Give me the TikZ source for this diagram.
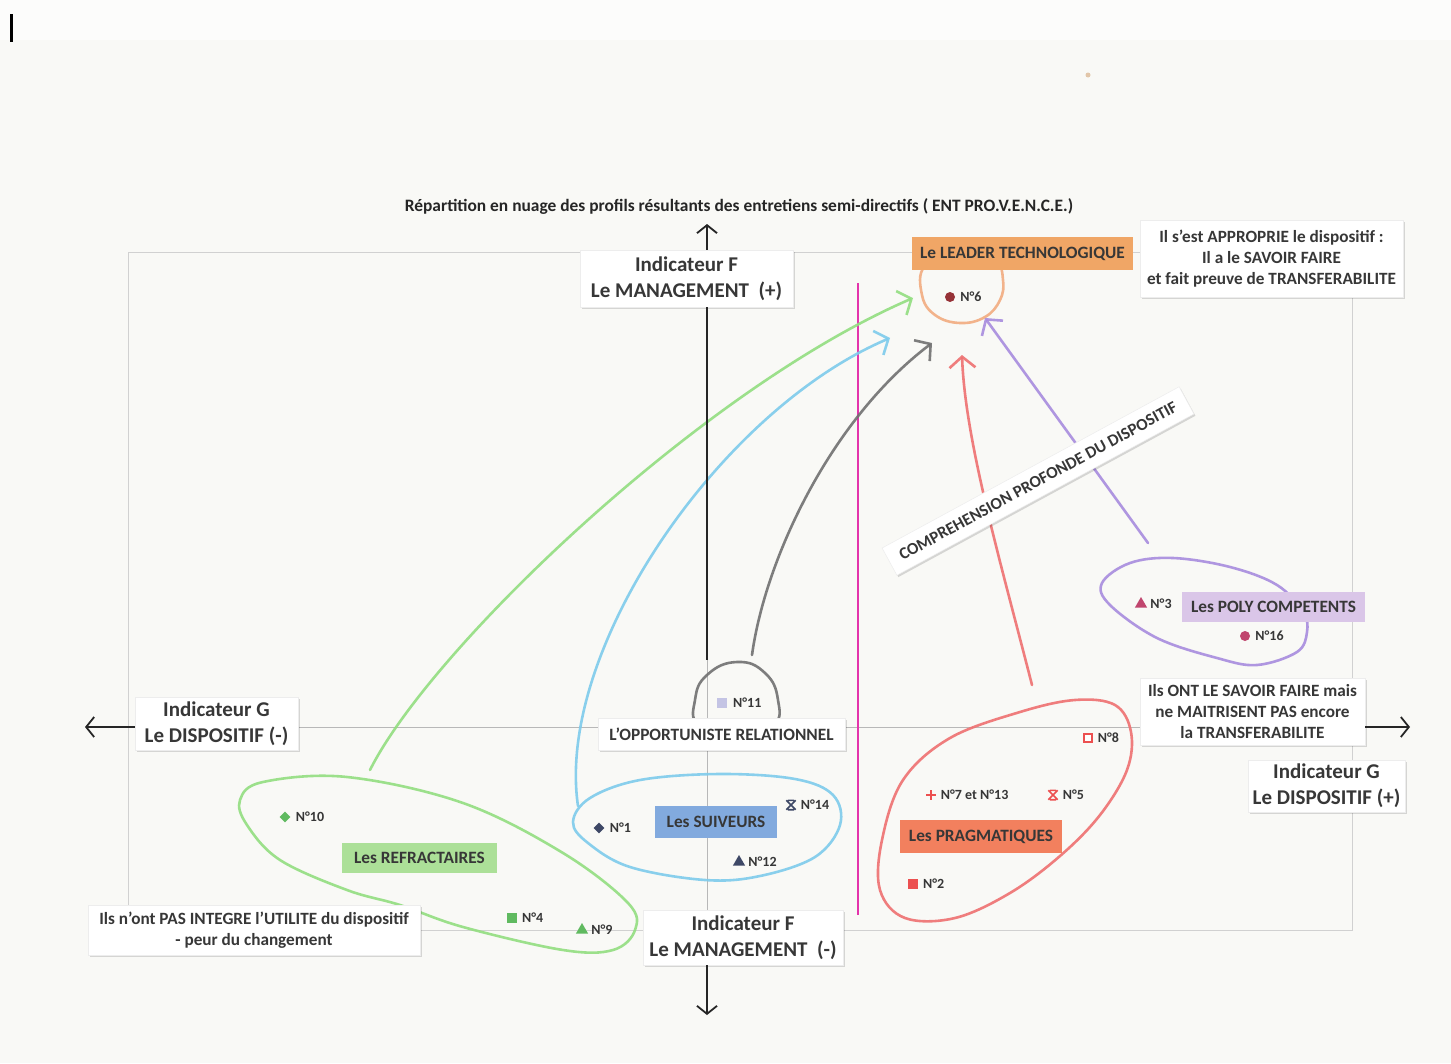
\documentclass[tikz,border=0pt]{standalone}
\usepackage{fontspec}
\setmainfont{Carlito}
\usetikzlibrary{arrows.meta,shadows,shapes.geometric}
\definecolor{paper}{RGB}{249,249,246}
\definecolor{topband}{RGB}{252,252,251}
\definecolor{txt}{RGB}{55,55,55}
\definecolor{leaderC}{RGB}{240,166,102}
\definecolor{polyC}{RGB}{218,198,232}
\definecolor{suivC}{RGB}{130,170,222}
\definecolor{refrC}{RGB}{172,224,152}
\definecolor{pragC}{RGB}{242,128,94}
\definecolor{greenL}{RGB}{146,222,128}
\definecolor{cyanL}{RGB}{125,203,236}
\definecolor{grayL}{RGB}{112,112,112}
\definecolor{redL}{RGB}{238,112,112}
\definecolor{purpleL}{RGB}{168,140,222}
\definecolor{orangeL}{RGB}{242,172,128}
\definecolor{magentaL}{RGB}{228,52,172}
\definecolor{navyM}{RGB}{62,72,102}
\definecolor{greenM}{RGB}{96,186,96}
\definecolor{redM}{RGB}{236,80,80}
\definecolor{roseM}{RGB}{192,70,110}
\definecolor{darkredM}{RGB}{150,50,55}
\definecolor{lavM}{RGB}{196,196,228}
\newcommand\fsz[2]{\fontsize{#1}{#2}\selectfont}
\begin{document}
\begin{tikzpicture}[x=1pt,y=-1pt,
  every node/.style={text=txt},
  wbox/.style={fill=white, draw=black!7, line width=0.5pt, align=center, inner sep=0pt,
    drop shadow={shadow xshift=1.5pt, shadow yshift=-1.8pt, opacity=0.14, fill=black}},
  axfont/.style={font=\bfseries\fsz{21}{26}},
  smfont/.style={font=\bfseries\fsz{17.2}{21}},
  tag/.style={inner sep=0pt, font=\bfseries\fsz{17.3}{20}},
  nlab/.style={anchor=west, font=\bfseries\fsz{14}{16}, inner sep=0pt, xshift=5pt},
  frame/.style={draw=black!18, line width=0.7pt},
  axthin/.style={draw=black!28, line width=0.7pt},
  axline/.style={draw=black!85, line width=1.8pt},
  axarrow/.style={draw=black!85, line width=1.8pt, -{Straight Barb[length=8pt,width=20pt,line width=1.8pt]}},
  hloop/.style={line width=2.6pt, line cap=round, line join=round, opacity=0.9},
  harrow/.style={line width=2.6pt, line cap=round, opacity=0.9,
    -{Straight Barb[length=11pt,width=26pt,line width=2.6pt]}},
  dot/.style={circle, inner sep=0pt, minimum size=10pt},
  sqr/.style={rectangle, inner sep=0pt, minimum size=9.5pt},
  tri/.style={regular polygon, regular polygon sides=3, inner sep=0pt, minimum size=14pt},
  dia/.style={diamond, inner sep=0pt, minimum size=11pt},
  star/.style={inner sep=0pt, minimum size=9pt}
]
% ---------- paper ----------
\fill[paper] (0,0) rectangle (1451,1063);
\fill[topband] (0,0) rectangle (1451,40);
\draw[line width=3pt] (11,14) -- (11,42);
\fill[brown!45] (1088,75) circle (2.5);

% ---------- frame and thin axes ----------
\draw[frame] (128,252) rectangle (1352,930);
\draw[axthin] (135,727) -- (1365,727);
\draw[axthin] (707,305) -- (707,965);
\draw[draw=magentaL, line width=1.8pt] (858,283) -- (858,915);

% ---------- hand drawn loops ----------
\draw[hloop, orangeL] plot[smooth cycle, tension=0.7] coordinates
  {(925,266) (922,295) (935,315) (960,323) (985,317) (1000,300) (1003,280) (995,262) (960,255)};
\draw[hloop, grayL] plot[smooth cycle, tension=0.8] coordinates
  {(699,726) (695,700) (707,675) (737,662) (765,673) (778,700) (773,726) (736,740)};
\draw[hloop, cyanL] plot[smooth cycle, tension=0.6] coordinates
  {(573,822) (590,798) (640,780) (720,774) (795,779) (833,795) (840,825) (815,857) (760,876) (705,880) (630,867) (588,843)};
\draw[hloop, greenL] plot[smooth cycle, tension=0.6] coordinates
  {(240,800) (263,782) (347,777) (463,803) (563,853) (628,903) (635,930) (613,950) (563,950) (463,927) (400,905) (347,890) (280,860) (247,825)};
\draw[hloop, purpleL] plot[smooth cycle, tension=0.6] coordinates
  {(1102,583) (1130,563) (1173,558) (1230,567) (1277,585) (1303,612) (1307,632) (1297,652) (1257,665) (1217,658) (1157,638) (1110,605)};
\draw[hloop, redL] plot[smooth cycle, tension=0.6] coordinates
  {(1020,712) (1075,700) (1115,705) (1131,732) (1127,770) (1100,815) (1060,856) (1010,893) (955,918) (905,918) (880,890) (882,840) (903,780) (950,738)};

% ---------- arrows toward the leader ----------
\coordinate (gS) at (370,770);  \coordinate (gE) at (913,298);
\coordinate (cS) at (578,806);  \coordinate (cE) at (890,338);
\coordinate (kS) at (752,655);  \coordinate (kE) at (932,343);
\coordinate (rS) at (1032,685); \coordinate (rE) at (962,355);
\coordinate (pS) at (1148,543); \coordinate (pE) at (985,318);
\draw[harrow, greenL] (gS) .. controls (430,650) and (700,390) .. (gE);
\draw[harrow, cyanL] (cS) .. controls (555,650) and (720,410) .. (cE);
\draw[harrow, grayL] (kS) .. controls (765,560) and (830,420) .. (kE);
\draw[harrow, redL] (rS) .. controls (1000,560) and (965,440) .. (rE);
\draw[harrow, purpleL] (pS) -- (pE);

% ---------- title ----------
\node[font=\bfseries\fsz{17.4}{20}, text=black!85] (title) at (739,207)
  {Répartition en nuage des profils résultants des entretiens semi-directifs ( ENT PRO.V.E.N.C.E.)};

% ---------- axis label boxes ----------
\node[wbox, axfont, minimum width=213pt, minimum height=57pt] (Fplus) at (686.5,278.5)
  {Indicateur F\\Le MANAGEMENT~~(+)};
\node[wbox, axfont, minimum width=200pt, minimum height=55pt] (Fminus) at (743,937.5)
  {Indicateur F\\Le MANAGEMENT~~(-)};
\node[wbox, axfont, minimum width=163pt, minimum height=53pt] (Gminus) at (216.5,723.5)
  {Indicateur G\\Le DISPOSITIF (-)};
\node[wbox, axfont, minimum width=157pt, minimum height=52pt] (Gplus) at (1326.5,786)
  {Indicateur G\\Le DISPOSITIF (+)};

\coordinate (Ftop) at (707,224);
\coordinate (Fmid) at (707,660);
\coordinate (Fbot) at (707,1015);
\coordinate (Lt) at (85,727);
\coordinate (Rt) at (1410,727);

% ---------- comment boxes ----------
\node[wbox, smfont, minimum width=263pt, minimum height=77pt] (approp) at (1271.5,258.5)
  {Il s’est APPROPRIE le dispositif :\\Il a le SAVOIR FAIRE\\et fait preuve de TRANSFERABILITE};
\node[wbox, smfont, minimum width=225pt, minimum height=67pt] (savoir) at (1252.5,711.5)
  {Ils ONT LE SAVOIR FAIRE mais\\ne MAITRISENT PAS encore\\la TRANSFERABILITE};
\node[wbox, smfont, minimum width=332pt, minimum height=50pt] (integre) at (254,930)
  {Ils n’ont PAS INTEGRE l’UTILITE du dispositif\\- peur du changement};
\node[wbox, font=\bfseries\fsz{17.3}{20}, minimum width=247pt, minimum height=32pt] (opport) at (721.5,734)
  {L’OPPORTUNISTE RELATIONNEL};
\node[wbox, font=\bfseries\fsz{16.8}{20}, minimum width=338pt, minimum height=31pt, rotate=28.5] (compr) at (1038,481)
  {COMPREHENSION PROFONDE DU DISPOSITIF};

% ---------- axis arrows ----------
\draw[axarrow] (Fplus.north -| Ftop) -- (Ftop);
\draw[axline] (Fplus.south -| Ftop) -- (Fmid);
\draw[axarrow] (Fminus.south -| Fbot) -- (Fbot);
\draw[axarrow] (Gminus.west |- Lt) -- (Lt);
\draw[axarrow] (savoir.east |- Rt) -- (Rt);

% ---------- group tags ----------
\node[tag, fill=leaderC, minimum width=221pt, minimum height=33pt] (leader) at (1022.5,253.5) {Le LEADER TECHNOLOGIQUE};
\node[tag, fill=polyC, minimum width=183pt, minimum height=30pt] (poly) at (1273.5,607) {Les POLY COMPETENTS};
\node[tag, fill=suivC, minimum width=122pt, minimum height=32pt] (suiv) at (716,822) {Les SUIVEURS};
\node[tag, fill=refrC, minimum width=155pt, minimum height=30pt] (refr) at (419.5,858) {Les REFRACTAIRES};
\node[tag, fill=pragC, minimum width=162pt, minimum height=33pt] (prag) at (981,836.5) {Les PRAGMATIQUES};

% ---------- data points ----------
\node[dot, fill=darkredM] (m6) at (950,297) {};   \node[nlab] at (m6.east) {N°6};
\node[tri, fill=roseM] (m3) at (1141,604) {};     \node[nlab] at (m3.east |- m3.center) {N°3};
\node[dot, fill=roseM] (m16) at (1245,636) {};    \node[nlab] at (m16.east) {N°16};
\node[sqr, fill=lavM] (m11) at (722,703) {};      \node[nlab, xshift=1pt] at (m11.east) {N°11};
\node[sqr, draw=redM, line width=1.5pt, minimum size=8pt, fill=white] (m8) at (1088,738) {}; \node[nlab] at (m8.east) {N°8};
\node[star] (m7) at (931,795) {};
\draw[redM, line width=1.6pt] (m7.west) -- (m7.east) (m7.north) -- (m7.south);
\node[nlab] at (m7.east) {N°7 et N°13};
\node[star] (m5) at (1053,795) {};
\draw[redM, line width=1.6pt] (m5.north west) -- (m5.south east) (m5.north east) -- (m5.south west)
  ([xshift=1.5pt]m5.north west) -- ([xshift=-1.5pt]m5.north east)
  ([xshift=1.5pt]m5.south west) -- ([xshift=-1.5pt]m5.south east);
\node[nlab] at (m5.east) {N°5};
\node[sqr, fill=redM] (m2) at (913,884) {};       \node[nlab] at (m2.east) {N°2};
\node[star] (m14) at (791,805) {};
\draw[navyM, line width=1.6pt] (m14.north west) -- (m14.south east) (m14.north east) -- (m14.south west)
  ([xshift=1.5pt]m14.north west) -- ([xshift=-1.5pt]m14.north east)
  ([xshift=1.5pt]m14.south west) -- ([xshift=-1.5pt]m14.south east);
\node[nlab] at (m14.east) {N°14};
\node[dia, fill=navyM] (m1) at (599,828) {};      \node[nlab] at (m1.east) {N°1};
\node[tri, fill=navyM] (m12) at (739,862) {};     \node[nlab] at (m12.east |- m12.center) {N°12};
\node[dia, fill=greenM] (m10) at (285,817) {};    \node[nlab] at (m10.east) {N°10};
\node[sqr, fill=greenM] (m4) at (512,918) {};     \node[nlab] at (m4.east) {N°4};
\node[tri, fill=greenM] (m9) at (582,930) {};     \node[nlab] at (m9.east |- m9.center) {N°9};
\end{tikzpicture}
\end{document}
